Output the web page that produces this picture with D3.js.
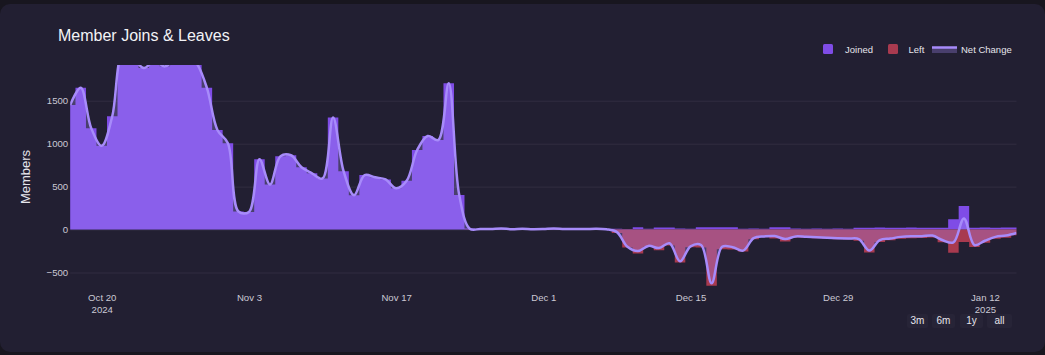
<!DOCTYPE html>
<html>
<head>
<meta charset="utf-8">
<script src="https://cdn.jsdelivr.net/npm/d3@7"></script>
<style>
  html, body { margin: 0; padding: 0; background: #18161f; }
  svg { display: block; font-family: "Liberation Sans", Arial, Helvetica, sans-serif; }
</style>
</head>
<body>
<svg id="chart" width="1045" height="355"></svg>
<script>
// ---- data ----
const dates = [
  "2024-10-17","2024-10-18","2024-10-19","2024-10-20","2024-10-21","2024-10-22","2024-10-23","2024-10-24","2024-10-25","2024-10-26","2024-10-27","2024-10-28","2024-10-29","2024-10-30","2024-10-31",
  "2024-11-01","2024-11-02","2024-11-03","2024-11-04","2024-11-05","2024-11-06","2024-11-07","2024-11-08","2024-11-09","2024-11-10","2024-11-11","2024-11-12","2024-11-13","2024-11-14","2024-11-15",
  "2024-11-16","2024-11-17","2024-11-18","2024-11-19","2024-11-20","2024-11-21","2024-11-22","2024-11-23","2024-11-24","2024-11-25","2024-11-26","2024-11-27","2024-11-28","2024-11-29","2024-11-30",
  "2024-12-01","2024-12-02","2024-12-03","2024-12-04","2024-12-05","2024-12-06","2024-12-07","2024-12-08","2024-12-09","2024-12-10","2024-12-11","2024-12-12","2024-12-13","2024-12-14","2024-12-15",
  "2024-12-16","2024-12-17","2024-12-18","2024-12-19","2024-12-20","2024-12-21","2024-12-22","2024-12-23","2024-12-24","2024-12-25","2024-12-26","2024-12-27","2024-12-28","2024-12-29","2024-12-30","2024-12-31",
  "2025-01-01","2025-01-02","2025-01-03","2025-01-04","2025-01-05","2025-01-06","2025-01-07","2025-01-08","2025-01-09","2025-01-10","2025-01-11","2025-01-12","2025-01-13","2025-01-14","2025-01-15"
];
const joined = [
  1450,1650,1180,975,1320,2050,1990,1880,1960,1900,1980,2040,1940,1650,1160,
  1005,210,205,820,525,855,865,725,655,595,1305,680,400,635,608,584,480,568,926,1090,1042,1703,402,12,8,10,15,9,11,7,
  10,13,8,10,9,12,8,10,8,28,10,25,25,12,10,28,28,28,28,10,12,10,28,28,12,10,12,10,12,10,20,
  22,24,20,22,24,20,22,22,120,275,22,24,22,24,25
];
const left = [
  0,0,0,0,0,0,0,0,0,0,0,0,0,0,0,
  0,0,0,0,0,0,0,0,0,0,0,0,0,0,0,0,0,0,0,0,0,0,0,2,1,3,2,4,1,2,
  3,1,2,4,3,2,5,40,208,278,200,240,185,382,205,208,653,228,233,255,112,90,103,138,92,95,102,105,112,115,130,
  267,146,125,107,102,98,92,147,270,145,202,154,107,94,65
];
const tickDates = ["2024-10-20","2024-11-03","2024-11-17","2024-12-01","2024-12-15","2024-12-29","2025-01-12"];
const tickLabels = ["Oct 20","Nov 3","Nov 17","Dec 1","Dec 15","Dec 29","Jan 12"];
const tickYears = ["2024","","","","","","2025"];
const yTicks = [-500, 0, 500, 1000, 1500];
const seriesNames = ["Joined", "Left", "Net Change"];
const rangeButtons = ["3m", "6m", "1y", "all"];
const titleText = "Member Joins & Leaves";
const yTitle = "Members";

// ---- styles ----
const C = {
  card: "#221f32",
  grid: "#312d40",
  joined: "#7f4ce6",
  left: "#a83a4f",
  line: "#a78bfa",
  fill: "rgba(167,139,250,0.30)",
  tick: "#cbc9d4",
  title: "#f3f3f6",
  legend: "#e6e5ec",
  btn: "#272437"
};
const FONT = "Liberation Sans, Arial, sans-serif";

const parse = d3.utcParse("%Y-%m-%d");
const rows = dates.map((d, i) => ({ date: parse(d), joined: joined[i], left: left[i], net: joined[i] - left[i] }));

const svg = d3.select("#chart");
const W = 1045, H = 355;
const plot = { left: 70.2, right: 1016.5, top: 65, bottom: 286 };

// card
svg.append("rect").attr("x", 0).attr("y", 4).attr("width", W).attr("height", H - 7)
  .attr("rx", 10).attr("fill", C.card);

const x = d3.scaleUtc()
  .domain([parse(dates[0]), parse(dates[dates.length - 1])])
  .range([plot.left, plot.right]);
const y = d3.scaleLinear().domain([-657, 1916]).range([plot.bottom, plot.top]);

// grid lines
svg.append("g")
  .attr("transform", `translate(${plot.left},0)`)
  .call(d3.axisLeft(y).tickValues(yTicks).tickSize(-(plot.right - plot.left)).tickFormat(""))
  .call(g => g.select(".domain").remove())
  .call(g => g.selectAll("line").attr("stroke", C.grid).attr("stroke-width", 1));

// clip
svg.append("defs").append("clipPath").attr("id", "plotclip")
  .append("rect").attr("x", plot.left).attr("y", plot.top)
  .attr("width", plot.right - plot.left).attr("height", plot.bottom - plot.top);

const g = svg.append("g").attr("clip-path", "url(#plotclip)");

// bars drawn as one path per series (no seams between adjacent days)
const barPath = (valueOf) => rows.map(d => {
  const x0 = x(d3.utcHour.offset(d.date, -12)), x1 = x(d3.utcHour.offset(d.date, 12));
  const y0 = y(0), y1 = y(valueOf(d));
  return `M${x0},${y0}H${x1}V${y1}H${x0}Z`;
}).join("");

g.append("path").attr("d", barPath(d => d.joined)).attr("fill", C.joined);
g.append("path").attr("d", barPath(d => -d.left)).attr("fill", C.left);

const curve = d3.curveCatmullRom.alpha(0.5);
g.append("path").datum(rows)
  .attr("d", d3.area().x(d => x(d.date)).y0(y(0)).y1(d => y(d.net)).curve(curve))
  .attr("fill", C.fill);
g.append("path").datum(rows)
  .attr("d", d3.line().x(d => x(d.date)).y(d => y(d.net)).curve(curve))
  .attr("fill", "none").attr("stroke", C.line).attr("stroke-width", 2.5)
  .attr("stroke-linejoin", "round");

// y axis labels
svg.append("g")
  .attr("transform", `translate(${plot.left},0)`)
  .call(d3.axisLeft(y).tickValues(yTicks).tickSize(0).tickPadding(2)
    .tickFormat(d => d < 0 ? "\u2212" + Math.abs(d) : String(d)))
  .call(g => g.select(".domain").remove())
  .call(g => g.selectAll("text").attr("fill", C.tick).attr("font-size", 9.6)
    .attr("font-family", FONT));

// x axis labels
const xa = svg.append("g")
  .attr("transform", `translate(0,${plot.bottom})`)
  .call(d3.axisBottom(x).tickValues(tickDates.map(parse)).tickSize(0).tickPadding(0)
    .tickFormat((d, i) => tickLabels[i]))
  .call(g => g.select(".domain").remove());
xa.selectAll("text")
  .attr("fill", C.tick).attr("font-size", 9.6).attr("dy", null).attr("y", 15)
  .attr("font-family", FONT)
  .each(function (d, i) {
    if (tickYears[i]) {
      d3.select(this).append("tspan").attr("x", 0).attr("dy", 12.3).text(tickYears[i]);
    }
  });

// titles
svg.append("text").attr("x", 58).attr("y", 41).attr("fill", C.title)
  .attr("font-size", 16).text(titleText);
svg.append("text").attr("transform", "translate(30,177) rotate(-90)")
  .attr("text-anchor", "middle").attr("fill", C.legend).attr("font-size", 13).text(yTitle);

// legend
const lg = svg.append("g").attr("font-size", 9.5).attr("fill", C.legend);
lg.append("rect").attr("x", 823).attr("y", 44).attr("width", 10).attr("height", 10).attr("rx", 1.5).attr("fill", C.joined);
lg.append("text").attr("x", 845).attr("y", 52.5).text(seriesNames[0]);
lg.append("rect").attr("x", 888).attr("y", 44).attr("width", 10).attr("height", 10).attr("rx", 1.5).attr("fill", C.left);
lg.append("text").attr("x", 908.5).attr("y", 52.5).text(seriesNames[1]);
lg.append("rect").attr("x", 932).attr("y", 47).attr("width", 25).attr("height", 6).attr("fill", C.fill);
lg.append("line").attr("x1", 932).attr("x2", 957).attr("y1", 47.5).attr("y2", 47.5)
  .attr("stroke", C.line).attr("stroke-width", 2.5);
lg.append("text").attr("x", 961).attr("y", 52.5).text(seriesNames[2]);

// range selector buttons
const btnX = [907, 932, 960, 987];
const btnW = [21, 23, 23, 25];
const bg = svg.append("g");
rangeButtons.forEach((b, i) => {
  bg.append("rect").attr("x", btnX[i]).attr("y", 314).attr("width", btnW[i]).attr("height", 14)
    .attr("rx", 2).attr("fill", C.btn);
  bg.append("text").attr("x", btnX[i] + btnW[i] / 2).attr("y", 324.3).attr("text-anchor", "middle")
    .attr("font-size", 10).attr("fill", C.legend).text(b);
});
</script>
</body>
</html>
